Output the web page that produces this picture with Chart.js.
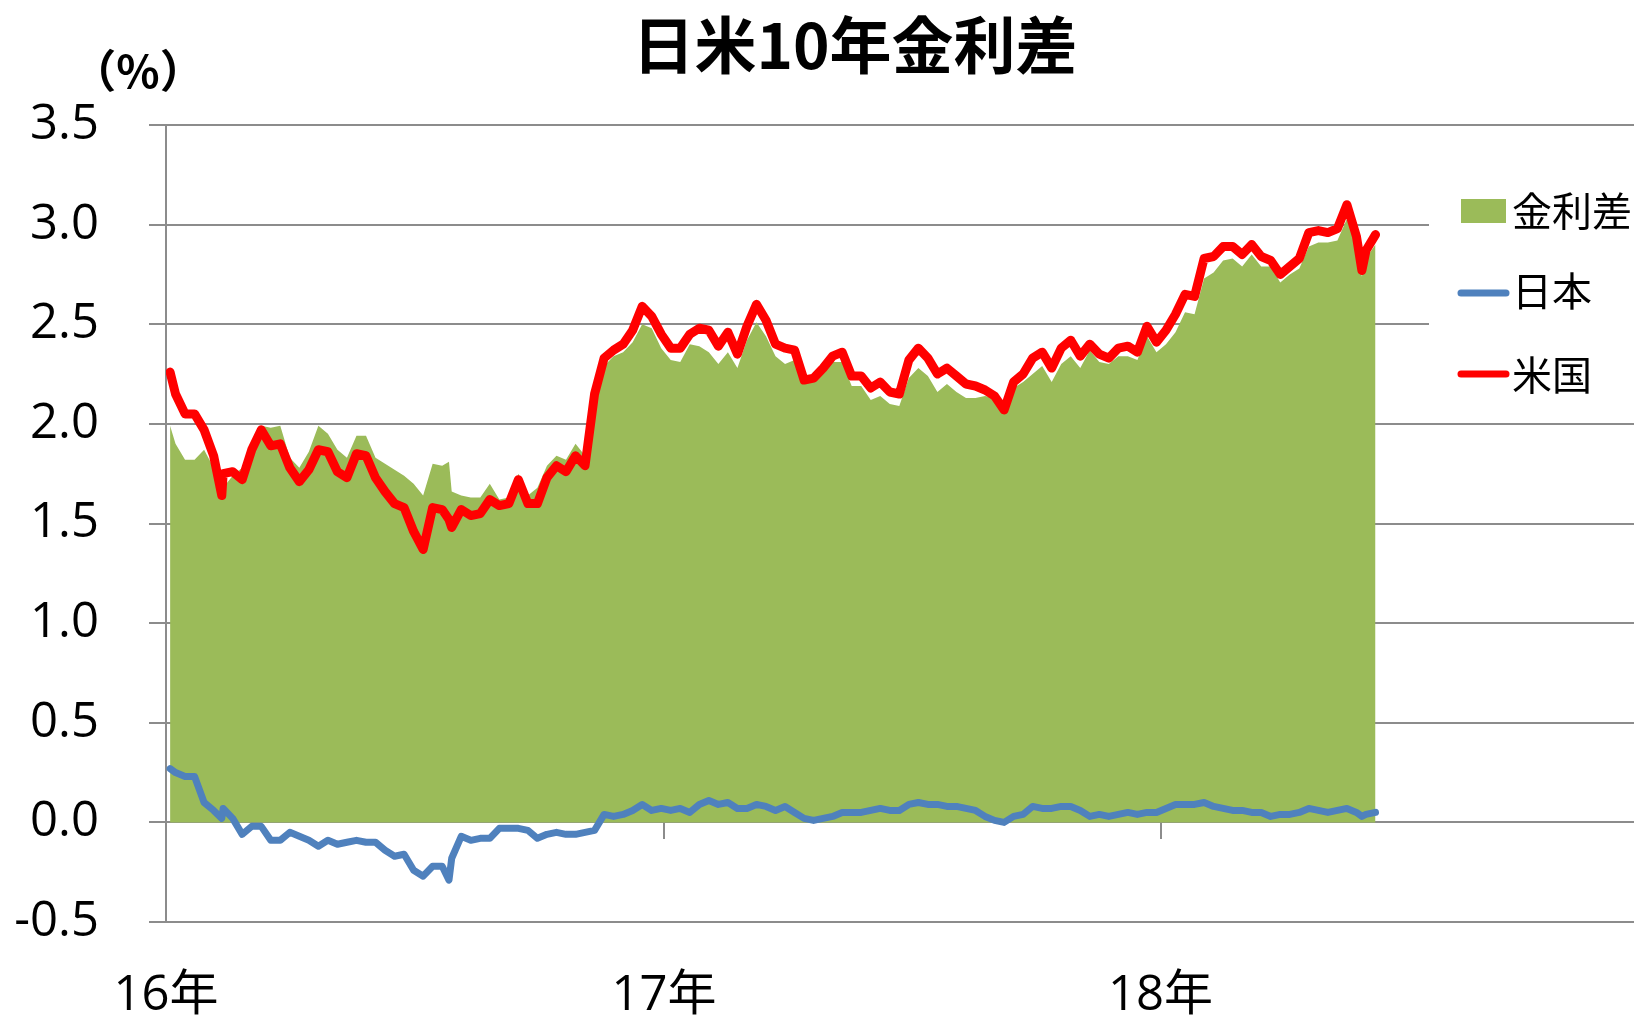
<!DOCTYPE html>
<html><head><meta charset="utf-8">
<script src="https://cdn.jsdelivr.net/npm/chart.js@4.4.1/dist/chart.umd.min.js"></script>
<style>
html,body{margin:0;padding:0;background:#fff;overflow:hidden}
#wrap{position:relative;width:1634px;height:1019px}
</style></head><body>
<div id="wrap"><canvas id="c" width="1634" height="1019"></canvas></div>
<script>
const chartTitle = "日米10年金利差";
const unitLabel = "（%）";
const seriesNames = ["金利差", "日本", "米国"];

const dates = [
 "2016-01-04","2016-01-08","2016-01-15","2016-01-22","2016-01-29",
 "2016-02-05","2016-02-11","2016-02-12","2016-02-19","2016-02-26",
 "2016-03-04","2016-03-11","2016-03-18","2016-03-25",
 "2016-04-01","2016-04-08","2016-04-15","2016-04-22","2016-04-29",
 "2016-05-06","2016-05-13","2016-05-20","2016-05-27",
 "2016-06-03","2016-06-10","2016-06-17","2016-06-24",
 "2016-07-01","2016-07-08","2016-07-15","2016-07-22","2016-07-27","2016-07-29",
 "2016-08-05","2016-08-12","2016-08-19","2016-08-26",
 "2016-09-02","2016-09-09","2016-09-16","2016-09-23","2016-09-30",
 "2016-10-07","2016-10-14","2016-10-21","2016-10-28",
 "2016-11-04","2016-11-11","2016-11-18","2016-11-25",
 "2016-12-02","2016-12-09","2016-12-16","2016-12-23","2016-12-30",
 "2017-01-06","2017-01-13","2017-01-20","2017-01-27",
 "2017-02-03","2017-02-10","2017-02-17","2017-02-24",
 "2017-03-03","2017-03-10","2017-03-17","2017-03-24","2017-03-31",
 "2017-04-07","2017-04-14","2017-04-21","2017-04-28",
 "2017-05-05","2017-05-12","2017-05-19","2017-05-26",
 "2017-06-02","2017-06-09","2017-06-16","2017-06-23","2017-06-30",
 "2017-07-07","2017-07-14","2017-07-21","2017-07-28",
 "2017-08-04","2017-08-11","2017-08-18","2017-08-25",
 "2017-09-01","2017-09-08","2017-09-15","2017-09-22","2017-09-29",
 "2017-10-06","2017-10-13","2017-10-20","2017-10-27",
 "2017-11-03","2017-11-10","2017-11-17","2017-11-24",
 "2017-12-01","2017-12-08","2017-12-15","2017-12-22","2017-12-29",
 "2018-01-05","2018-01-12","2018-01-19","2018-01-26",
 "2018-02-02","2018-02-09","2018-02-16","2018-02-23",
 "2018-03-02","2018-03-09","2018-03-16","2018-03-23","2018-03-30",
 "2018-04-06","2018-04-13","2018-04-20","2018-04-27",
 "2018-05-04","2018-05-11","2018-05-18","2018-05-25","2018-05-29",
 "2018-06-01","2018-06-08"
];

const usYield = [
 2.26,2.15,2.05,2.05,1.97,
 1.84,1.64,1.75,1.76,1.72,
 1.87,1.97,1.89,1.90,
 1.78,1.71,1.77,1.87,1.86,
 1.76,1.73,1.85,1.84,
 1.73,1.66,1.60,1.58,
 1.46,1.37,1.58,1.57,1.52,1.48,
 1.57,1.54,1.55,1.62,
 1.59,1.60,1.72,1.60,1.60,
 1.73,1.79,1.76,1.84,
 1.79,2.15,2.33,2.37,
 2.40,2.47,2.59,2.54,2.45,
 2.38,2.38,2.45,2.48,
 2.47,2.39,2.46,2.35,
 2.49,2.60,2.52,2.40,2.38,
 2.37,2.22,2.23,2.28,
 2.34,2.36,2.24,2.24,
 2.18,2.21,2.16,2.15,2.32,
 2.38,2.33,2.25,2.28,
 2.24,2.20,2.19,2.17,
 2.14,2.07,2.21,2.25,2.33,
 2.36,2.28,2.38,2.42,
 2.34,2.40,2.35,2.33,
 2.38,2.39,2.36,2.49,2.41,
 2.47,2.55,2.65,2.64,
 2.83,2.84,2.89,2.89,
 2.85,2.90,2.84,2.82,2.75,
 2.79,2.83,2.96,2.97,
 2.96,2.98,3.10,2.94,2.77,
 2.87,2.95
];

const jpYield = [
 0.27,0.25,0.23,0.23,0.10,
 0.06,0.02,0.07,0.02,-0.06,
 -0.02,-0.02,-0.09,-0.09,
 -0.05,-0.07,-0.09,-0.12,-0.09,
 -0.11,-0.10,-0.09,-0.10,
 -0.10,-0.14,-0.17,-0.16,
 -0.24,-0.27,-0.22,-0.22,-0.29,-0.18,
 -0.07,-0.09,-0.08,-0.08,
 -0.03,-0.03,-0.03,-0.04,-0.08,
 -0.06,-0.05,-0.06,-0.06,
 -0.05,-0.04,0.04,0.03,
 0.04,0.06,0.09,0.06,0.07,
 0.06,0.07,0.05,0.09,
 0.11,0.09,0.10,0.07,
 0.07,0.09,0.08,0.06,0.08,
 0.05,0.02,0.01,0.02,
 0.03,0.05,0.05,0.05,
 0.06,0.07,0.06,0.06,0.09,
 0.10,0.09,0.09,0.08,
 0.08,0.07,0.06,0.03,
 0.01,0.00,0.03,0.04,0.08,
 0.07,0.07,0.08,0.08,
 0.06,0.03,0.04,0.03,
 0.04,0.05,0.04,0.05,0.05,
 0.07,0.09,0.09,0.09,
 0.10,0.08,0.07,0.06,
 0.06,0.05,0.05,0.03,0.04,
 0.04,0.05,0.07,0.06,
 0.05,0.06,0.07,0.05,0.03,
 0.04,0.05
];

const spread = [
 1.99,1.90,1.82,1.82,1.87,
 1.78,1.62,1.68,1.74,1.78,
 1.89,1.99,1.98,1.99,
 1.83,1.78,1.86,1.99,1.95,
 1.87,1.83,1.94,1.94,
 1.83,1.80,1.77,1.74,
 1.70,1.64,1.80,1.79,1.81,1.66,
 1.64,1.63,1.63,1.70,
 1.62,1.63,1.75,1.64,1.68,
 1.79,1.84,1.82,1.90,
 1.84,2.19,2.29,2.34,
 2.36,2.41,2.50,2.48,2.38,
 2.32,2.31,2.40,2.39,
 2.36,2.30,2.36,2.28,
 2.42,2.51,2.44,2.34,2.30,
 2.32,2.20,2.22,2.26,
 2.31,2.31,2.19,2.19,
 2.12,2.14,2.10,2.09,2.23,
 2.28,2.24,2.16,2.20,
 2.16,2.13,2.13,2.14,
 2.13,2.07,2.18,2.21,2.25,
 2.29,2.21,2.30,2.34,
 2.28,2.37,2.31,2.30,
 2.34,2.34,2.32,2.44,2.36,
 2.40,2.46,2.56,2.55,
 2.73,2.76,2.82,2.83,
 2.79,2.85,2.79,2.79,2.71,
 2.75,2.78,2.89,2.91,
 2.91,2.92,3.03,2.89,2.74,
 2.83,2.90
];

const xTickDates = ["2016-01-01", "2017-01-01", "2018-01-01"];
const xTickLabels = ["16年", "17年", "18年"];
const xAxisStart = "2016-01-01";
const xAxisEnd = "2018-12-15";
const yMin = -0.5, yMax = 3.5, yStep = 0.5;

const colors = { spread: "#9BBB59", jp: "#4F81BD", us: "#FF0000", grid: "#8C8C8C" };
const FONT = '"Open Sans", "Noto Sans CJK JP", sans-serif';
const CJK = '"Noto Sans CJK JP", sans-serif';

function dayIndex(s) {
  const p = s.split("-").map(Number);
  const p0 = xAxisStart.split("-").map(Number);
  return (Date.UTC(p[0], p[1] - 1, p[2]) - Date.UTC(p0[0], p0[1] - 1, p0[2])) / 86400000;
}
const toPts = arr => dates.map((d, i) => ({ x: dayIndex(d), y: arr[i] }));
const setYearTicks = s => { s.ticks = xTickDates.map(d => ({ value: dayIndex(d) })); };

const decor = {
  id: "decor",
  afterDraw(chart) {
    const c = chart.ctx;
    c.save();
    c.fillStyle = "#000";
    c.textAlign = "center";
    c.textBaseline = "middle";
    c.font = 'bold 62px ' + CJK;
    c.fillText(chartTitle, 855, 45);
    c.font = 'bold 45px ' + CJK;
    c.fillText(unitLabel, 138, 71);
    // legend (overlaid on the plot area, as in the original)
    c.fillStyle = "#fff";
    c.fillRect(1429, 150, 205, 262);
    c.fillStyle = colors.spread;
    c.fillRect(1461, 199, 45, 24);
    c.lineCap = "round";
    c.lineWidth = 7;
    c.strokeStyle = colors.jp;
    c.beginPath(); c.moveTo(1461, 293); c.lineTo(1506, 293); c.stroke();
    c.strokeStyle = colors.us;
    c.beginPath(); c.moveTo(1461, 374); c.lineTo(1506, 374); c.stroke();
    c.fillStyle = "#000";
    c.textAlign = "left";
    c.font = '40px ' + CJK;
    c.fillText(seriesNames[0], 1512, 211);
    c.fillText(seriesNames[1], 1512, 291);
    c.fillText(seriesNames[2], 1512, 375);
    c.restore();
  }
};

new Chart(document.getElementById("c"), {
  type: "line",
  data: {
    datasets: [
      { label: seriesNames[2], data: toPts(usYield), xAxisID: "x", yAxisID: "y",
        borderColor: colors.us, borderWidth: 9, pointRadius: 0, fill: false, order: 1,
        borderJoinStyle: "round", borderCapStyle: "round", tension: 0 },
      { label: seriesNames[1], data: toPts(jpYield), xAxisID: "x", yAxisID: "y",
        borderColor: colors.jp, borderWidth: 7, pointRadius: 0, fill: false, order: 2,
        borderJoinStyle: "round", borderCapStyle: "round", tension: 0 },
      { label: seriesNames[0], data: toPts(spread), xAxisID: "x", yAxisID: "y",
        borderColor: "rgba(0,0,0,0)", borderWidth: 0, backgroundColor: colors.spread,
        pointRadius: 0, fill: "origin", order: 3, tension: 0 }
    ]
  },
  options: {
    responsive: false, animation: false, devicePixelRatio: 1,
    layout: { padding: { left: 0, right: 0, top: 125, bottom: 0 } },
    plugins: { legend: { display: false }, title: { display: false }, tooltip: { enabled: false } },
    scales: {
      x: {
        type: "linear", position: "bottom", min: 0, max: dayIndex(xAxisEnd),
        afterBuildTicks: setYearTicks,
        ticks: { callback: (v, i) => xTickLabels[i], font: { family: FONT, size: 49 }, color: "#000",
                 padding: 45, maxRotation: 0, autoSkip: false },
        grid: { display: false, drawTicks: false },
        border: { display: false },
        afterFit: s => { s.height = 97; }
      },
      x0: {
        type: "linear", axis: "x", position: { y: 0 }, min: 0, max: dayIndex(xAxisEnd),
        afterBuildTicks: setYearTicks,
        ticks: { display: false },
        grid: { drawOnChartArea: false, drawTicks: true, tickLength: 17, color: colors.grid, lineWidth: 2 },
        border: { display: false }
      },
      y: {
        type: "linear", position: "left", min: yMin, max: yMax,
        ticks: { stepSize: yStep, callback: v => Number(v).toFixed(1), font: { family: FONT, size: 49 },
                 color: "#000", padding: 50 },
        grid: { color: colors.grid, lineWidth: 2, tickLength: 17, drawTicks: true },
        border: { display: true, color: colors.grid, width: 2 },
        afterFit: s => { s.width = 166; }
      }
    }
  },
  plugins: [decor]
});
</script>
</body></html>
